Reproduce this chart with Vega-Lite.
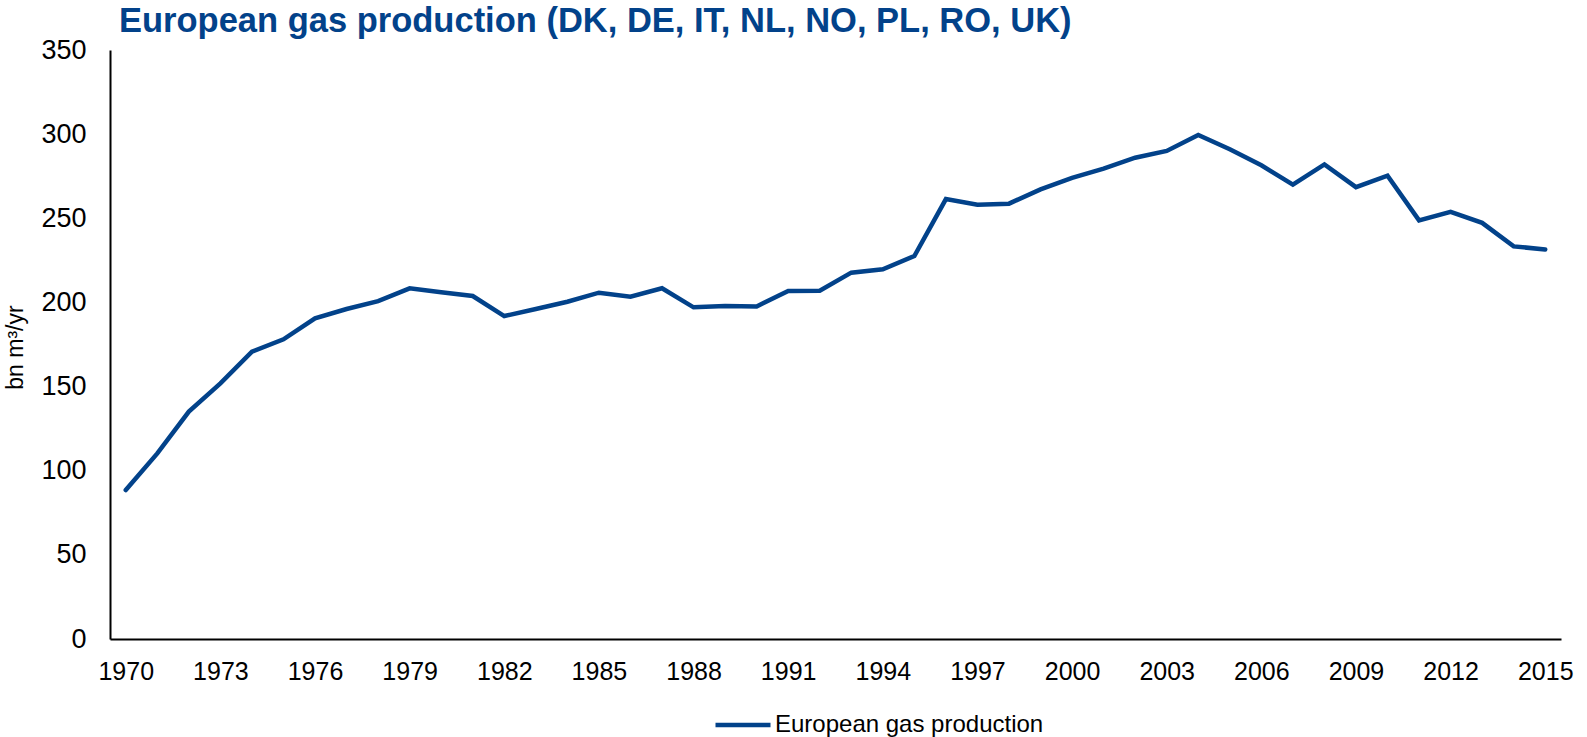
{
  "$schema": "https://vega.github.io/schema/vega-lite/v6.json",
  "width": 1451,
  "height": 589,
  "autosize": {"type": "none"},
  "padding": {"left": 110, "top": 50, "right": 26, "bottom": 98},
  "background": "white",
  "config": {
    "view": {"stroke": null},
    "font": "Liberation Sans",
    "axis": {"domainColor": "black", "domainWidth": 2, "ticks": false, "tickSize": 0, "grid": false, "labelFont": "Liberation Sans", "labelFontSize": 25, "labelColor": "black"}
  },
  "title": {
    "text": "European gas production (DK, DE, IT, NL, NO, PL, RO, UK)",
    "anchor": "start",
    "frame": "group",
    "font": "Liberation Sans",
    "fontSize": 34.5,
    "fontWeight": "bold",
    "color": "#02428a",
    "dx": 9,
    "offset": -3
  },
  "data": {
    "values": [
      {"year": 1970, "value": 88.5, "series": "European gas production"},
      {"year": 1971, "value": 110.3, "series": "European gas production"},
      {"year": 1972, "value": 135.1, "series": "European gas production"},
      {"year": 1973, "value": 151.9, "series": "European gas production"},
      {"year": 1974, "value": 170.7, "series": "European gas production"},
      {"year": 1975, "value": 178.1, "series": "European gas production"},
      {"year": 1976, "value": 190.5, "series": "European gas production"},
      {"year": 1977, "value": 196.1, "series": "European gas production"},
      {"year": 1978, "value": 200.8, "series": "European gas production"},
      {"year": 1979, "value": 208.4, "series": "European gas production"},
      {"year": 1980, "value": 206.0, "series": "European gas production"},
      {"year": 1981, "value": 203.8, "series": "European gas production"},
      {"year": 1982, "value": 191.9, "series": "European gas production"},
      {"year": 1983, "value": 196.1, "series": "European gas production"},
      {"year": 1984, "value": 200.4, "series": "European gas production"},
      {"year": 1985, "value": 205.8, "series": "European gas production"},
      {"year": 1986, "value": 203.4, "series": "European gas production"},
      {"year": 1987, "value": 208.4, "series": "European gas production"},
      {"year": 1988, "value": 197.1, "series": "European gas production"},
      {"year": 1989, "value": 197.9, "series": "European gas production"},
      {"year": 1990, "value": 197.6, "series": "European gas production"},
      {"year": 1991, "value": 206.8, "series": "European gas production"},
      {"year": 1992, "value": 207.0, "series": "European gas production"},
      {"year": 1993, "value": 217.7, "series": "European gas production"},
      {"year": 1994, "value": 219.7, "series": "European gas production"},
      {"year": 1995, "value": 227.6, "series": "European gas production"},
      {"year": 1996, "value": 261.4, "series": "European gas production"},
      {"year": 1997, "value": 258.1, "series": "European gas production"},
      {"year": 1998, "value": 258.7, "series": "European gas production"},
      {"year": 1999, "value": 267.2, "series": "European gas production"},
      {"year": 2000, "value": 274.0, "series": "European gas production"},
      {"year": 2001, "value": 279.5, "series": "European gas production"},
      {"year": 2002, "value": 286.0, "series": "European gas production"},
      {"year": 2003, "value": 290.0, "series": "European gas production"},
      {"year": 2004, "value": 299.5, "series": "European gas production"},
      {"year": 2005, "value": 291.0, "series": "European gas production"},
      {"year": 2006, "value": 281.5, "series": "European gas production"},
      {"year": 2007, "value": 270.0, "series": "European gas production"},
      {"year": 2008, "value": 282.0, "series": "European gas production"},
      {"year": 2009, "value": 268.5, "series": "European gas production"},
      {"year": 2010, "value": 275.3, "series": "European gas production"},
      {"year": 2011, "value": 248.8, "series": "European gas production"},
      {"year": 2012, "value": 253.8, "series": "European gas production"},
      {"year": 2013, "value": 247.3, "series": "European gas production"},
      {"year": 2014, "value": 233.3, "series": "European gas production"},
      {"year": 2015, "value": 231.5, "series": "European gas production"}
    ]
  },
  "mark": {"type": "line", "strokeWidth": 4.5, "strokeCap": "round"},
  "encoding": {
    "x": {
      "field": "year",
      "type": "ordinal",
      "scale": {"paddingInner": 0, "paddingOuter": 0},
      "axis": {"values": [1970, 1973, 1976, 1979, 1982, 1985, 1988, 1991, 1994, 1997, 2000, 2003, 2006, 2009, 2012, 2015], "labelAngle": 0, "labelPadding": 20, "title": null}
    },
    "y": {
      "field": "value",
      "type": "quantitative",
      "scale": {"domain": [0, 350], "nice": false},
      "axis": {
        "values": [0, 50, 100, 150, 200, 250, 300, 350],
        "labelPadding": 24,
        "labelFontSize": 27,
        "title": "bn m³/yr",
        "titleFont": "Liberation Sans",
        "titleFontSize": 23,
        "titleFontWeight": "normal",
        "titleColor": "black",
        "titleX": -95,
        "titleY": 297,
        "titleAngle": -90,
        "titleAlign": "center",
        "titleBaseline": "middle"
      }
    },
    "color": {
      "field": "series",
      "type": "nominal",
      "scale": {"range": ["#02428a"]},
      "legend": {
        "title": null,
        "orient": "none",
        "legendX": 603,
        "legendY": 645,
        "padding": 0,
        "symbolType": "stroke",
        "symbolSize": 3025,
        "symbolStrokeWidth": 4.5,
        "labelFont": "Liberation Sans",
        "labelFontSize": 24,
        "labelColor": "black",
        "labelOffset": 2,
        "labelLimit": 0
      }
    }
  }
}
